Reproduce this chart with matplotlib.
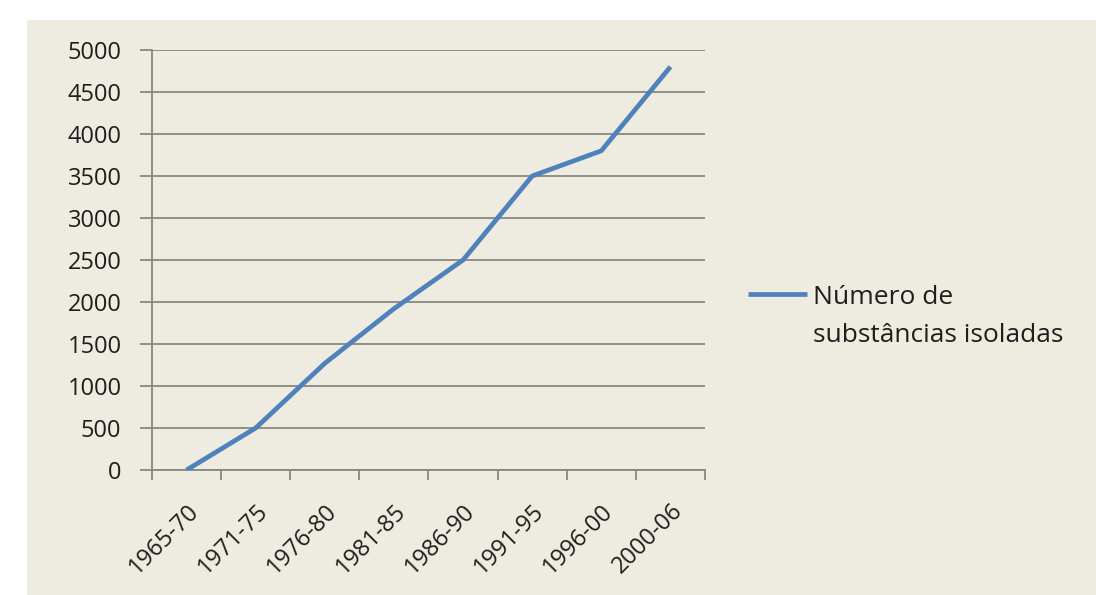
import matplotlib.pyplot as plt
from matplotlib.patches import Rectangle
import numpy as np

# Data
periods = ['1965-70', '1971-75', '1976-80', '1981-85', '1986-90', '1991-95', '1996-00', '2000-06']
substances = [0, 500, 1270, 1920, 2500, 3500, 3800, 4800]
series_name = ['Número de', 'substâncias isoladas']

BG = '#EEEBE0'
GRID = '#8A8782'
LINE = '#4F81BD'
TEXT = '#1E1E1E'

plt.rcParams['font.family'] = ['Open Sans', 'DejaVu Sans']

fig = plt.figure(figsize=(10.96, 5.95), dpi=100, facecolor='white')
# beige chart area, white strip on top and left
fig.patches.append(Rectangle((27 / 1096, 0), 1, 1 - 20 / 595,
                             transform=fig.transFigure, facecolor=BG,
                             edgecolor='none', zorder=-10))

ax = fig.add_axes([152 / 1096, 1 - 470 / 595, (705 - 152) / 1096, (470 - 50) / 595])
ax.set_facecolor(BG)

x = np.arange(len(periods))
line, = ax.plot(x, substances, color=LINE, linewidth=3.4, solid_capstyle='butt',
                solid_joinstyle='round', zorder=3)

ax.set_xlim(-0.5, len(periods) - 0.5)
ax.set_ylim(0, 5000)
ax.set_yticks(np.arange(0, 5001, 500))
ax.yaxis.grid(True, color=GRID, linewidth=1.3)
ax.set_axisbelow(True)

# x ticks at category boundaries, labels centred
ax.set_xticks(np.arange(-0.5, len(periods)), minor=False)
ax.set_xticklabels([])
ax.set_xticks(x, minor=True)
ax.set_xticklabels(periods, minor=True, rotation=45, ha='right',
                   rotation_mode='anchor', fontsize=17, color=TEXT)
ax.tick_params(axis='x', which='minor', length=0, pad=21)
ax.tick_params(axis='x', which='major', direction='out', length=7.5,
               width=1.3, color=GRID)
ax.tick_params(axis='y', direction='out', length=9, width=1.3, color=GRID,
               labelsize=17, labelcolor=TEXT, pad=13)

for s in ['top', 'right']:
    ax.spines[s].set_visible(False)
for s in ['left', 'bottom']:
    ax.spines[s].set_color(GRID)
    ax.spines[s].set_linewidth(1.3)

# legend: handle beside the first line of the label, as in the original
leg_fs = 19
leg = fig.legend([line], [series_name[0]], loc='center left',
                 bbox_to_anchor=(748 / 1096, 1 - 297 / 595), frameon=False,
                 fontsize=leg_fs, handlelength=2.25, handletextpad=0.22,
                 borderpad=0, borderaxespad=0, labelcolor=TEXT)
fig.canvas.draw()
bb = leg.get_texts()[0].get_window_extent()
fig.text(bb.x0 / fig.bbox.width, ((bb.y0 + bb.y1) / 2 - 38) / fig.bbox.height,
         series_name[1], fontsize=leg_fs, color=TEXT, va='center', ha='left')

fig.savefig('out.png', dpi=100, facecolor=fig.get_facecolor())
